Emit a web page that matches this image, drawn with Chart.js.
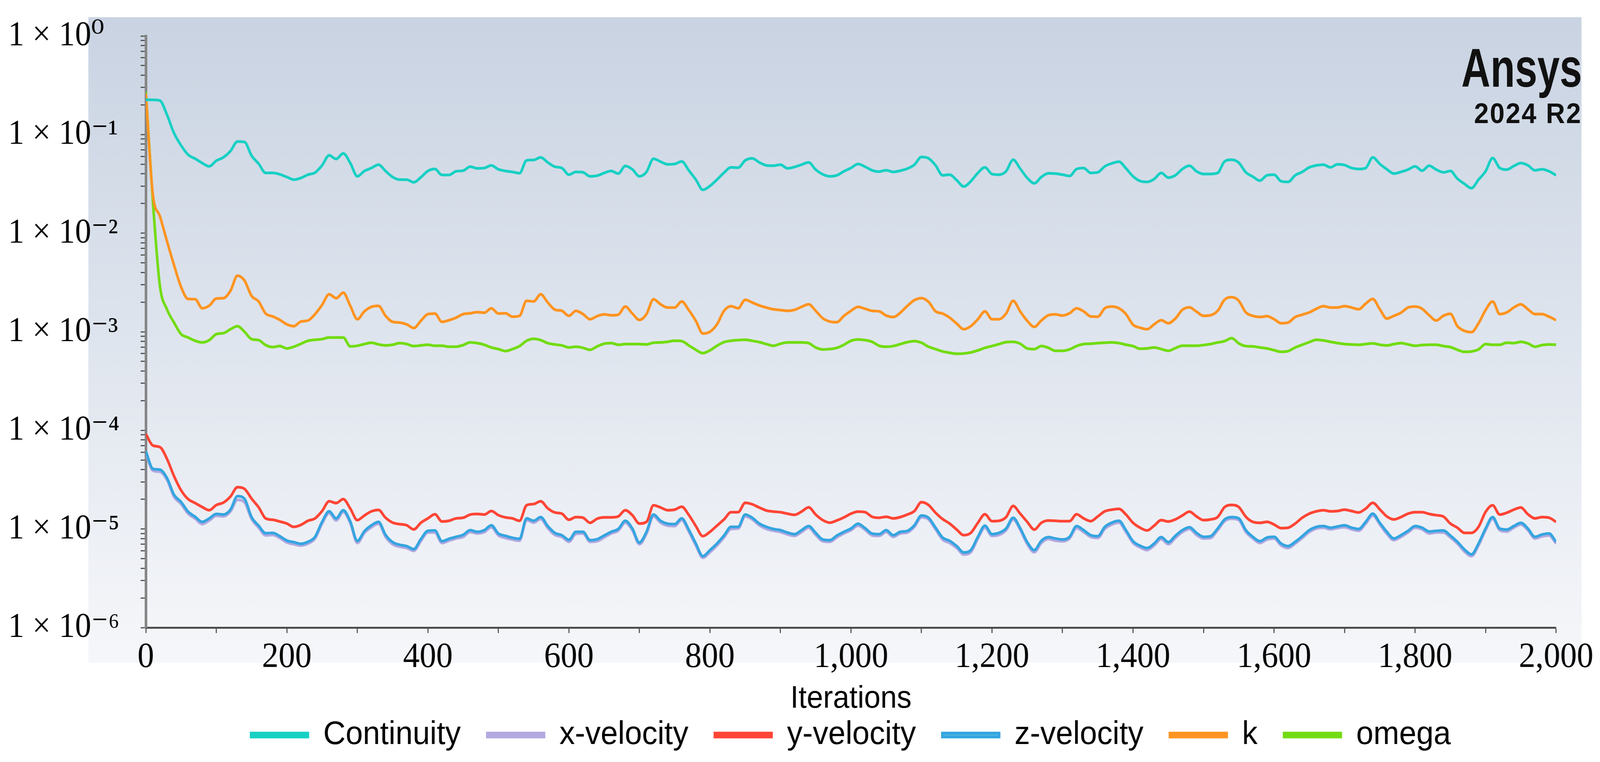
<!DOCTYPE html>
<html>
<head>
<meta charset="utf-8">
<title>Scaled residuals</title>
<script src="https://cdn.jsdelivr.net/npm/chart.js@4.4.1/dist/chart.umd.min.js"></script>
<style>
  html, body { margin: 0; padding: 0; background: #fff; overflow: hidden; }
  /* the chart is laid out at 4346 x 1950 and scaled to whatever the window is */
  #stage { position: absolute; left: 0; top: 0; width: 4346px; height: 1950px; transform-origin: 0 0; }
  #residuals { display: block; width: 4346px; height: 1950px; }
  #logo { position: absolute; right: 49px; top: 104px; text-align: right; color: #111;
          font-family: "Liberation Sans", Arial, sans-serif; font-weight: bold; line-height: 1; }
  #logo .name { display: inline-block; font-size: 140px; transform: scaleX(0.78); transform-origin: right center; }
  #logo .rel { font-size: 72px; margin-top: 10px; letter-spacing: 3px; }
</style>
</head>
<body>
<div id="stage">
  <canvas id="residuals" width="4346" height="1950"></canvas>
  <div id="logo"><div class="name">Ansys</div><div class="rel">2024 R2</div></div>
</div>
<script>
// iteration numbers, one sample every 10 iterations
var iterations = [
  0, 10, 20, 30, 40, 50, 60, 70, 80, 90,
  100, 110, 120, 130, 140, 150, 160, 170, 180, 190,
  200, 210, 220, 230, 240, 250, 260, 270, 280, 290,
  300, 310, 320, 330, 340, 350, 360, 370, 380, 390,
  400, 410, 420, 430, 440, 450, 460, 470, 480, 490,
  500, 510, 520, 530, 540, 550, 560, 570, 580, 590,
  600, 610, 620, 630, 640, 650, 660, 670, 680, 690,
  700, 710, 720, 730, 740, 750, 760, 770, 780, 790,
  800, 810, 820, 830, 840, 850, 860, 870, 880, 890,
  900, 910, 920, 930, 940, 950, 960, 970, 980, 990,
  1000, 1010, 1020, 1030, 1040, 1050, 1060, 1070, 1080, 1090,
  1100, 1110, 1120, 1130, 1140, 1150, 1160, 1170, 1180, 1190,
  1200, 1210, 1220, 1230, 1240, 1250, 1260, 1270, 1280, 1290,
  1300, 1310, 1320, 1330, 1340, 1350, 1360, 1370, 1380, 1390,
  1400, 1410, 1420, 1430, 1440, 1450, 1460, 1470, 1480, 1490,
  1500, 1510, 1520, 1530, 1540, 1550, 1560, 1570, 1580, 1590,
  1600, 1610, 1620, 1630, 1640, 1650, 1660, 1670, 1680, 1690,
  1700, 1710, 1720, 1730, 1740, 1750, 1760, 1770, 1780, 1790,
  1800, 1810, 1820, 1830, 1840, 1850, 1860, 1870, 1880, 1890,
  1900, 1910, 1920, 1930, 1940, 1950, 1960, 1970, 1980, 1990,
  2000
];

var continuity = [
  0.225, 0.225, 0.221, 0.159, 0.1035, 0.0776, 0.0625, 0.0569, 0.0514, 0.0476,
  0.0543, 0.0587, 0.0680, 0.0850, 0.0840, 0.0611, 0.0506, 0.0408, 0.0408, 0.0395,
  0.0371, 0.0349, 0.0363, 0.0392, 0.0411, 0.0487, 0.0615, 0.0565, 0.0645, 0.0514,
  0.0377, 0.0427, 0.0458, 0.0495, 0.0427, 0.0371, 0.0349, 0.0349, 0.0328, 0.0368,
  0.0427, 0.0447, 0.0389, 0.0389, 0.0424, 0.0430, 0.0472, 0.0454, 0.0458, 0.0487,
  0.0444, 0.0427, 0.0418, 0.0405, 0.0547, 0.0552, 0.0587, 0.0522, 0.0472, 0.0458,
  0.0392, 0.0418, 0.0414, 0.0377, 0.0383, 0.0408, 0.0427, 0.0402, 0.0480, 0.0444,
  0.0377, 0.0418, 0.0569, 0.0531, 0.0499, 0.0503, 0.0535, 0.0434, 0.0349, 0.0275,
  0.0301, 0.0349, 0.0411, 0.0465, 0.0461, 0.0547, 0.0574, 0.0522, 0.0487, 0.0483,
  0.0495, 0.0454, 0.0469, 0.0495, 0.0522, 0.0441, 0.0395, 0.0377, 0.0386, 0.0424,
  0.0458, 0.0503, 0.0472, 0.0434, 0.0421, 0.0434, 0.0418, 0.0430, 0.0451, 0.0495,
  0.0592, 0.0574, 0.0487, 0.0386, 0.0392, 0.0344, 0.0297, 0.0336, 0.0408, 0.0465,
  0.0398, 0.0392, 0.0424, 0.0556, 0.0451, 0.0363, 0.0320, 0.0371, 0.0405, 0.0402,
  0.0392, 0.0380, 0.0447, 0.0458, 0.0408, 0.0414, 0.0476, 0.0510, 0.0531, 0.0454,
  0.0377, 0.0338, 0.0331, 0.0354, 0.0408, 0.0366, 0.0386, 0.0447, 0.0483, 0.0424,
  0.0398, 0.0398, 0.0408, 0.0535, 0.0556, 0.0518, 0.0414, 0.0374, 0.0341, 0.0386,
  0.0392, 0.0336, 0.0331, 0.0386, 0.0418, 0.0465, 0.0487, 0.0495, 0.0465, 0.0499,
  0.0491, 0.0458, 0.0447, 0.0458, 0.0587, 0.0503, 0.0444, 0.0402, 0.0418, 0.0441,
  0.0476, 0.0430, 0.0483, 0.0441, 0.0414, 0.0427, 0.0357, 0.0316, 0.0286, 0.0349,
  0.0424, 0.0578, 0.0458, 0.0441, 0.0480, 0.0514, 0.0487, 0.0434, 0.0444, 0.0424,
  0.0386
];

var xVelocity = [
  5.9e-5, 3.9e-5, 3.8e-5, 3.15e-5, 2.12e-5, 1.79e-5, 1.43e-5, 1.27e-5, 1.12e-5, 1.22e-5,
  1.36e-5, 1.34e-5, 1.50e-5, 1.97e-5, 1.86e-5, 1.26e-5, 1.03e-5, 0.86e-5, 0.87e-5, 0.81e-5,
  0.73e-5, 0.70e-5, 0.68e-5, 0.71e-5, 0.80e-5, 1.13e-5, 1.45e-5, 1.22e-5, 1.49e-5, 1.14e-5,
  0.72e-5, 0.91e-5, 1.04e-5, 1.13e-5, 0.83e-5, 0.70e-5, 0.66e-5, 0.64e-5, 0.60e-5, 0.75e-5,
  0.92e-5, 0.92e-5, 0.72e-5, 0.76e-5, 0.80e-5, 0.83e-5, 0.93e-5, 0.90e-5, 0.93e-5, 1.04e-5,
  0.86e-5, 0.81e-5, 0.78e-5, 0.76e-5, 1.23e-5, 1.16e-5, 1.26e-5, 1.02e-5, 0.87e-5, 0.83e-5,
  0.74e-5, 0.89e-5, 0.90e-5, 0.74e-5, 0.75e-5, 0.82e-5, 0.90e-5, 0.96e-5, 1.16e-5, 0.97e-5,
  0.70e-5, 0.89e-5, 1.34e-5, 1.16e-5, 1.08e-5, 1.07e-5, 1.23e-5, 0.94e-5, 0.68e-5, 0.51e-5,
  0.58e-5, 0.68e-5, 0.82e-5, 1.00e-5, 1.01e-5, 1.34e-5, 1.25e-5, 1.09e-5, 1.00e-5, 0.96e-5,
  0.93e-5, 0.88e-5, 0.85e-5, 0.93e-5, 1.03e-5, 0.87e-5, 0.75e-5, 0.74e-5, 0.82e-5, 0.90e-5,
  0.97e-5, 1.08e-5, 0.98e-5, 0.86e-5, 0.85e-5, 0.93e-5, 0.83e-5, 0.90e-5, 0.92e-5, 1.05e-5,
  1.31e-5, 1.25e-5, 0.99e-5, 0.78e-5, 0.72e-5, 0.64e-5, 0.55e-5, 0.58e-5, 0.80e-5, 1.03e-5,
  0.85e-5, 0.87e-5, 0.97e-5, 1.25e-5, 0.98e-5, 0.70e-5, 0.58e-5, 0.72e-5, 0.79e-5, 0.76e-5,
  0.75e-5, 0.80e-5, 1.02e-5, 0.93e-5, 0.83e-5, 0.81e-5, 1.00e-5, 1.11e-5, 1.16e-5, 0.93e-5,
  0.72e-5, 0.65e-5, 0.61e-5, 0.68e-5, 0.79e-5, 0.70e-5, 0.81e-5, 0.93e-5, 1.00e-5, 0.87e-5,
  0.80e-5, 0.81e-5, 0.97e-5, 1.20e-5, 1.27e-5, 1.23e-5, 0.93e-5, 0.80e-5, 0.72e-5, 0.78e-5,
  0.80e-5, 0.68e-5, 0.64e-5, 0.71e-5, 0.81e-5, 0.93e-5, 1.01e-5, 1.03e-5, 0.99e-5, 1.02e-5,
  1.04e-5, 0.99e-5, 0.96e-5, 1.13e-5, 1.37e-5, 1.11e-5, 0.89e-5, 0.77e-5, 0.83e-5, 0.92e-5,
  1.03e-5, 0.99e-5, 0.90e-5, 0.92e-5, 0.92e-5, 0.82e-5, 0.71e-5, 0.59e-5, 0.53e-5, 0.68e-5,
  0.97e-5, 1.27e-5, 0.97e-5, 0.94e-5, 1.03e-5, 1.11e-5, 0.97e-5, 0.80e-5, 0.84e-5, 0.86e-5,
  0.71e-5
];

var yVelocity = [
  9.2e-5, 7.03e-5, 6.77e-5, 5.15e-5, 3.44e-5, 2.47e-5, 2.01e-5, 1.83e-5, 1.67e-5, 1.55e-5,
  1.75e-5, 1.85e-5, 2.13e-5, 2.65e-5, 2.55e-5, 2.03e-5, 1.66e-5, 1.28e-5, 1.24e-5, 1.19e-5,
  1.135e-5, 1.05e-5, 1.10e-5, 1.21e-5, 1.28e-5, 1.52e-5, 1.91e-5, 1.83e-5, 2.01e-5, 1.61e-5,
  1.23e-5, 1.37e-5, 1.51e-5, 1.56e-5, 1.30e-5, 1.16e-5, 1.12e-5, 1.09e-5, 0.99e-5, 1.155e-5,
  1.28e-5, 1.41e-5, 1.19e-5, 1.21e-5, 1.28e-5, 1.30e-5, 1.40e-5, 1.42e-5, 1.40e-5, 1.52e-5,
  1.38e-5, 1.31e-5, 1.28e-5, 1.21e-5, 1.74e-5, 1.79e-5, 1.91e-5, 1.62e-5, 1.47e-5, 1.43e-5,
  1.24e-5, 1.32e-5, 1.30e-5, 1.155e-5, 1.27e-5, 1.31e-5, 1.31e-5, 1.34e-5, 1.55e-5, 1.38e-5,
  1.135e-5, 1.18e-5, 1.74e-5, 1.65e-5, 1.55e-5, 1.57e-5, 1.68e-5, 1.39e-5, 1.07e-5, 0.845e-5,
  0.935e-5, 1.08e-5, 1.25e-5, 1.48e-5, 1.48e-5, 1.84e-5, 1.78e-5, 1.65e-5, 1.54e-5, 1.50e-5,
  1.48e-5, 1.43e-5, 1.39e-5, 1.50e-5, 1.66e-5, 1.40e-5, 1.23e-5, 1.16e-5, 1.22e-5, 1.31e-5,
  1.43e-5, 1.50e-5, 1.48e-5, 1.33e-5, 1.30e-5, 1.33e-5, 1.28e-5, 1.32e-5, 1.40e-5, 1.52e-5,
  1.87e-5, 1.75e-5, 1.46e-5, 1.26e-5, 1.135e-5, 0.985e-5, 0.865e-5, 0.913e-5, 1.155e-5, 1.41e-5,
  1.20e-5, 1.21e-5, 1.32e-5, 1.71e-5, 1.43e-5, 1.18e-5, 0.985e-5, 1.155e-5, 1.22e-5, 1.21e-5,
  1.20e-5, 1.20e-5, 1.41e-5, 1.28e-5, 1.20e-5, 1.34e-5, 1.51e-5, 1.57e-5, 1.60e-5, 1.40e-5,
  1.155e-5, 1.03e-5, 0.965e-5, 1.08e-5, 1.23e-5, 1.19e-5, 1.25e-5, 1.37e-5, 1.50e-5, 1.34e-5,
  1.23e-5, 1.25e-5, 1.32e-5, 1.67e-5, 1.75e-5, 1.67e-5, 1.33e-5, 1.18e-5, 1.155e-5, 1.18e-5,
  1.11e-5, 1.02e-5, 1.03e-5, 1.135e-5, 1.30e-5, 1.43e-5, 1.51e-5, 1.55e-5, 1.51e-5, 1.52e-5,
  1.57e-5, 1.52e-5, 1.47e-5, 1.61e-5, 1.84e-5, 1.58e-5, 1.34e-5, 1.25e-5, 1.32e-5, 1.43e-5,
  1.48e-5, 1.48e-5, 1.42e-5, 1.38e-5, 1.34e-5, 1.135e-5, 1.03e-5, 0.913e-5, 0.913e-5, 1.05e-5,
  1.49e-5, 1.74e-5, 1.40e-5, 1.46e-5, 1.57e-5, 1.65e-5, 1.41e-5, 1.28e-5, 1.32e-5, 1.30e-5,
  1.18e-5
];

var zVelocity = [
  6.16e-5, 4.08e-5, 3.99e-5, 3.29e-5, 2.23e-5, 1.88e-5, 1.50e-5, 1.33e-5, 1.18e-5, 1.28e-5,
  1.42e-5, 1.40e-5, 1.57e-5, 2.15e-5, 2.02e-5, 1.32e-5, 1.08e-5, 0.905e-5, 0.913e-5, 0.845e-5,
  0.764e-5, 0.735e-5, 0.707e-5, 0.741e-5, 0.832e-5, 1.18e-5, 1.51e-5, 1.28e-5, 1.55e-5, 1.19e-5,
  0.758e-5, 0.949e-5, 1.09e-5, 1.18e-5, 0.872e-5, 0.735e-5, 0.691e-5, 0.670e-5, 0.624e-5, 0.788e-5,
  0.957e-5, 0.965e-5, 0.752e-5, 0.795e-5, 0.832e-5, 0.872e-5, 0.972e-5, 0.935e-5, 0.972e-5, 1.09e-5,
  0.899e-5, 0.852e-5, 0.813e-5, 0.795e-5, 1.28e-5, 1.21e-5, 1.32e-5, 1.07e-5, 0.913e-5, 0.865e-5,
  0.776e-5, 0.935e-5, 0.935e-5, 0.770e-5, 0.788e-5, 0.858e-5, 0.935e-5, 1.00e-5, 1.21e-5, 1.01e-5,
  0.728e-5, 0.935e-5, 1.40e-5, 1.21e-5, 1.13e-5, 1.12e-5, 1.28e-5, 0.985e-5, 0.712e-5, 0.530e-5,
  0.610e-5, 0.712e-5, 0.858e-5, 1.05e-5, 1.05e-5, 1.40e-5, 1.30e-5, 1.135e-5, 1.05e-5, 1.00e-5,
  0.972e-5, 0.920e-5, 0.886e-5, 0.972e-5, 1.07e-5, 0.913e-5, 0.782e-5, 0.770e-5, 0.858e-5, 0.935e-5,
  1.01e-5, 1.13e-5, 1.02e-5, 0.899e-5, 0.886e-5, 0.972e-5, 0.865e-5, 0.935e-5, 0.957e-5, 1.09e-5,
  1.37e-5, 1.30e-5, 1.03e-5, 0.819e-5, 0.758e-5, 0.670e-5, 0.578e-5, 0.610e-5, 0.832e-5, 1.08e-5,
  0.886e-5, 0.913e-5, 1.01e-5, 1.30e-5, 1.02e-5, 0.735e-5, 0.610e-5, 0.758e-5, 0.826e-5, 0.800e-5,
  0.782e-5, 0.832e-5, 1.07e-5, 0.972e-5, 0.865e-5, 0.845e-5, 1.05e-5, 1.16e-5, 1.21e-5, 0.972e-5,
  0.752e-5, 0.676e-5, 0.640e-5, 0.712e-5, 0.826e-5, 0.735e-5, 0.852e-5, 0.972e-5, 1.04e-5, 0.913e-5,
  0.832e-5, 0.845e-5, 1.01e-5, 1.25e-5, 1.32e-5, 1.28e-5, 0.972e-5, 0.832e-5, 0.752e-5, 0.819e-5,
  0.832e-5, 0.712e-5, 0.670e-5, 0.741e-5, 0.845e-5, 0.972e-5, 1.05e-5, 1.07e-5, 1.03e-5, 1.06e-5,
  1.09e-5, 1.03e-5, 1.00e-5, 1.18e-5, 1.43e-5, 1.155e-5, 0.935e-5, 0.800e-5, 0.865e-5, 0.957e-5,
  1.07e-5, 1.03e-5, 0.942e-5, 0.957e-5, 0.965e-5, 0.858e-5, 0.741e-5, 0.620e-5, 0.552e-5, 0.712e-5,
  1.01e-5, 1.32e-5, 1.01e-5, 0.985e-5, 1.07e-5, 1.155e-5, 1.01e-5, 0.832e-5, 0.879e-5, 0.899e-5,
  0.741e-5
];

var kResidual = [
  0.26, 0.0246, 0.01486, 0.0083, 0.00475, 2.85e-3, 2.15e-3, 2.14e-3, 1.73e-3, 1.84e-3,
  2.17e-3, 2.19e-3, 2.60e-3, 3.70e-3, 3.30e-3, 2.31e-3, 2.03e-3, 1.53e-3, 1.43e-3, 1.32e-3,
  1.19e-3, 1.14e-3, 1.27e-3, 1.30e-3, 1.51e-3, 1.87e-3, 2.40e-3, 2.19e-3, 2.49e-3, 1.83e-3,
  1.34e-3, 1.61e-3, 1.79e-3, 1.83e-3, 1.45e-3, 1.26e-3, 1.24e-3, 1.19e-3, 1.09e-3, 1.29e-3,
  1.51e-3, 1.53e-3, 1.26e-3, 1.31e-3, 1.39e-3, 1.51e-3, 1.54e-3, 1.58e-3, 1.56e-3, 1.73e-3,
  1.53e-3, 1.54e-3, 1.42e-3, 1.45e-3, 2.06e-3, 2.03e-3, 2.40e-3, 1.98e-3, 1.68e-3, 1.63e-3,
  1.45e-3, 1.63e-3, 1.51e-3, 1.34e-3, 1.44e-3, 1.50e-3, 1.47e-3, 1.49e-3, 1.80e-3, 1.53e-3,
  1.32e-3, 1.51e-3, 2.14e-3, 1.90e-3, 1.76e-3, 1.76e-3, 2.03e-3, 1.66e-3, 1.29e-3, 0.96e-3,
  1.00e-3, 1.19e-3, 1.63e-3, 1.82e-3, 1.73e-3, 2.11e-3, 1.98e-3, 1.85e-3, 1.76e-3, 1.69e-3,
  1.66e-3, 1.63e-3, 1.67e-3, 1.79e-3, 1.90e-3, 1.63e-3, 1.37e-3, 1.27e-3, 1.25e-3, 1.45e-3,
  1.63e-3, 1.79e-3, 1.71e-3, 1.63e-3, 1.61e-3, 1.46e-3, 1.41e-3, 1.56e-3, 1.83e-3, 2.09e-3,
  2.19e-3, 2.01e-3, 1.61e-3, 1.53e-3, 1.39e-3, 1.21e-3, 1.06e-3, 1.14e-3, 1.34e-3, 1.61e-3,
  1.34e-3, 1.34e-3, 1.53e-3, 2.06e-3, 1.61e-3, 1.29e-3, 1.12e-3, 1.30e-3, 1.47e-3, 1.50e-3,
  1.46e-3, 1.54e-3, 1.73e-3, 1.61e-3, 1.43e-3, 1.42e-3, 1.73e-3, 1.80e-3, 1.73e-3, 1.51e-3,
  1.18e-3, 1.10e-3, 1.06e-3, 1.19e-3, 1.31e-3, 1.22e-3, 1.36e-3, 1.67e-3, 1.77e-3, 1.60e-3,
  1.45e-3, 1.47e-3, 1.63e-3, 2.12e-3, 2.24e-3, 2.06e-3, 1.57e-3, 1.45e-3, 1.41e-3, 1.44e-3,
  1.34e-3, 1.22e-3, 1.24e-3, 1.41e-3, 1.49e-3, 1.57e-3, 1.71e-3, 1.82e-3, 1.76e-3, 1.76e-3,
  1.82e-3, 1.76e-3, 1.69e-3, 1.93e-3, 2.15e-3, 1.69e-3, 1.36e-3, 1.45e-3, 1.56e-3, 1.76e-3,
  1.80e-3, 1.71e-3, 1.47e-3, 1.30e-3, 1.45e-3, 1.52e-3, 1.14e-3, 1.02e-3, 0.99e-3, 1.22e-3,
  1.66e-3, 2.03e-3, 1.51e-3, 1.57e-3, 1.76e-3, 1.90e-3, 1.69e-3, 1.51e-3, 1.51e-3, 1.42e-3,
  1.31e-3
];

var omega = [
  0.273, 0.0211, 2.92e-3, 1.69e-3, 1.24e-3, 9.46e-4, 8.75e-4, 8.10e-4, 7.79e-4, 8.23e-4,
  9.46e-4, 9.67e-4, 10.6e-4, 11.4e-4, 9.98e-4, 8.42e-4, 8.23e-4, 7.33e-4, 6.99e-4, 7.16e-4,
  6.77e-4, 7.05e-4, 7.56e-4, 8.10e-4, 8.29e-4, 8.42e-4, 8.75e-4, 8.75e-4, 8.75e-4, 7.10e-4,
  7.21e-4, 7.50e-4, 7.74e-4, 7.44e-4, 7.27e-4, 7.38e-4, 7.67e-4, 7.50e-4, 7.16e-4, 7.27e-4,
  7.38e-4, 7.21e-4, 7.21e-4, 7.05e-4, 7.05e-4, 7.33e-4, 7.79e-4, 7.67e-4, 7.38e-4, 6.93e-4,
  6.67e-4, 6.37e-4, 6.67e-4, 7.16e-4, 8.10e-4, 8.49e-4, 8.23e-4, 7.67e-4, 7.44e-4, 7.27e-4,
  6.93e-4, 7.05e-4, 6.87e-4, 6.56e-4, 7.10e-4, 7.56e-4, 7.67e-4, 7.38e-4, 7.50e-4, 7.50e-4,
  7.50e-4, 7.44e-4, 7.74e-4, 7.79e-4, 7.91e-4, 8.10e-4, 8.04e-4, 7.27e-4, 6.56e-4, 6.07e-4,
  6.47e-4, 7.21e-4, 7.85e-4, 8.10e-4, 8.23e-4, 8.29e-4, 8.10e-4, 7.85e-4, 7.50e-4, 7.21e-4,
  7.56e-4, 7.79e-4, 7.79e-4, 7.79e-4, 7.67e-4, 6.93e-4, 6.62e-4, 6.67e-4, 6.87e-4, 7.38e-4,
  8.10e-4, 8.36e-4, 8.23e-4, 7.91e-4, 7.21e-4, 7.05e-4, 7.16e-4, 7.50e-4, 7.85e-4, 8.04e-4,
  7.74e-4, 7.05e-4, 6.67e-4, 6.31e-4, 6.12e-4, 5.98e-4, 6.02e-4, 6.17e-4, 6.47e-4, 6.87e-4,
  7.16e-4, 7.50e-4, 7.85e-4, 7.91e-4, 7.56e-4, 6.77e-4, 6.67e-4, 7.16e-4, 6.87e-4, 6.41e-4,
  6.41e-4, 6.62e-4, 7.16e-4, 7.50e-4, 7.56e-4, 7.67e-4, 7.74e-4, 7.79e-4, 7.67e-4, 7.38e-4,
  7.16e-4, 6.72e-4, 6.77e-4, 6.93e-4, 6.67e-4, 6.41e-4, 6.82e-4, 7.21e-4, 7.21e-4, 7.21e-4,
  7.33e-4, 7.50e-4, 7.79e-4, 8.04e-4, 8.62e-4, 7.62e-4, 7.16e-4, 7.10e-4, 6.93e-4, 6.77e-4,
  6.51e-4, 6.26e-4, 6.37e-4, 6.93e-4, 7.38e-4, 7.85e-4, 8.29e-4, 8.16e-4, 7.91e-4, 7.67e-4,
  7.50e-4, 7.44e-4, 7.38e-4, 7.50e-4, 7.62e-4, 7.38e-4, 7.27e-4, 7.50e-4, 7.67e-4, 7.44e-4,
  7.21e-4, 7.33e-4, 7.38e-4, 7.38e-4, 7.16e-4, 6.99e-4, 6.56e-4, 6.26e-4, 6.31e-4, 6.62e-4,
  7.50e-4, 7.38e-4, 7.38e-4, 7.74e-4, 7.67e-4, 7.91e-4, 7.62e-4, 7.05e-4, 7.33e-4, 7.44e-4,
  7.38e-4
];

var yTickLabels = [
  "1 × 10⁻⁶", "1 × 10⁻⁵", "1 × 10⁻⁴", "1 × 10⁻³", "1 × 10⁻²", "1 × 10⁻¹", "1 × 10⁰"
];

// squeeze the 4346 x 1950 layout into the actual window
function fitStage() {
  var stage = document.getElementById("stage");
  var sx = window.innerWidth / 4346;
  var sy = window.innerHeight / 1950;
  stage.style.transform = "scale(" + sx + ", " + sy + ")";
}
fitStage();
window.addEventListener("resize", fitStage);

document.addEventListener("DOMContentLoaded", function () {
  var ctx = document.getElementById("residuals").getContext("2d");

  Chart.defaults.font.family = '"Liberation Sans", Arial, sans-serif';
  Chart.defaults.color = "#000";

  // light blue-grey panel behind the plot, a bit larger than the axes
  var plotBackground = {
    id: "plotBackground",
    beforeDraw: function (chart) {
      var c = chart.ctx;
      var a = chart.chartArea;
      var x0 = a.left - 156, y0 = a.top - 48;
      var x1 = a.right + 69, y1 = a.bottom + 90;
      var g = c.createLinearGradient(0, y0, 0, y1);
      g.addColorStop(0, "#c9d3e2");
      g.addColorStop(0.5, "#dfe5ee");
      g.addColorStop(1, "#f6f7fa");
      c.save();
      c.fillStyle = g;
      c.fillRect(x0, y0, x1 - x0, y1 - y0);
      c.restore();
    },
  };

  // wide gaps between legend items without the same gap above them
  var legendGap = {
    id: "legendGap",
    beforeInit: function (chart) {
      var legend = chart.legend;
      var cut = 62;
      var fit = legend.fit;
      legend.fit = function () {
        fit.call(this);
        this.height -= cut;
      };
      var draw = legend.draw;
      legend.draw = function () {
        this.top -= cut;
        draw.apply(this, arguments);
        this.top += cut;
      };
    },
  };

  var line = {
    borderWidth: 7,
    pointRadius: 0,
    cubicInterpolationMode: "monotone",
    fill: false,
    order: 1,
  };

  new Chart(ctx, {
    type: "line",
    data: {
      labels: iterations,
      datasets: [
        { label: "Continuity", data: continuity, ...line, borderColor: "#17d0c3", backgroundColor: "#17d0c3" },
        { label: "x-velocity", data: xVelocity, ...line, borderColor: "#b3a8e0", backgroundColor: "#b3a8e0" },
        { label: "y-velocity", data: yVelocity, ...line, borderColor: "#ff4535", backgroundColor: "#ff4535" },
        { label: "z-velocity", data: zVelocity, ...line, order: 0, borderColor: "#34a5e0", backgroundColor: "#4db6e2" },
        { label: "k", data: kResidual, ...line, borderColor: "#ff9420", backgroundColor: "#ff9420" },
        { label: "omega", data: omega, ...line, borderColor: "#72dc12", backgroundColor: "#72dc12" },
      ],
    },
    options: {
      responsive: false,
      animation: false,
      layout: {
        padding: { left: 22, right: 109, top: 92, bottom: 17 },
      },
      plugins: {
        legend: {
          position: "bottom",
          fullSize: false,
          labels: {
            boxWidth: 154,
            boxHeight: 10,
            padding: 72,
            color: "#000",
            font: { size: 84 },
            sort: function (a, b) {
              return a.datasetIndex - b.datasetIndex;
            },
          },
        },
        tooltip: { enabled: false },
      },
      scales: {
        x: {
          type: "linear",
          min: 0,
          max: 2000,
          grid: {
            drawOnChartArea: false,
            drawTicks: true,
            tickLength: 14,
            tickColor: "#555",
            tickWidth: 3,
          },
          border: { color: "#4d4d4d", width: 5 },
          ticks: {
            stepSize: 100,
            autoSkip: false,
            maxRotation: 0,
            minRotation: 0,
            padding: 18,
            color: "#000",
            font: { family: '"Liberation Serif", "Times New Roman", serif', size: 90, lineHeight: 1 },
            callback: function (value) {
              return value % 200 === 0 ? value.toLocaleString("en-US") : "";
            },
          },
          title: {
            display: true,
            text: "Iterations",
            color: "#000",
            font: { size: 80, lineHeight: 1 },
            padding: { top: 3, bottom: 0 },
          },
        },
        y: {
          type: "logarithmic",
          min: 1e-6,
          max: 1,
          afterFit: function (scale) {
            scale.width = 374;
          },
          afterBuildTicks: function (scale) {
            // keep 1..9 x 10^n only
            scale.ticks = scale.ticks.filter(function (t) {
              var m = t.value / Math.pow(10, Math.floor(Math.log10(t.value) + 1e-9));
              return Math.abs(m - Math.round(m)) < 1e-6;
            });
          },
          grid: {
            drawOnChartArea: false,
            drawTicks: true,
            tickLength: 14,
            tickColor: "#555",
            tickWidth: 3,
          },
          border: { color: "#858585", width: 7 },
          ticks: {
            autoSkip: false,
            crossAlign: "far",
            color: "#000",
            font: { family: '"Liberation Serif", "DejaVu Serif", serif', size: 88, lineHeight: 1 },
            callback: function (value) {
              var e = Math.log10(value);
              return Math.abs(e - Math.round(e)) < 1e-6 ? yTickLabels[Math.round(e) + 6] : "";
            },
          },
        },
      },
    },
    plugins: [plotBackground, legendGap],
  });
});
</script>
</body>
</html>
